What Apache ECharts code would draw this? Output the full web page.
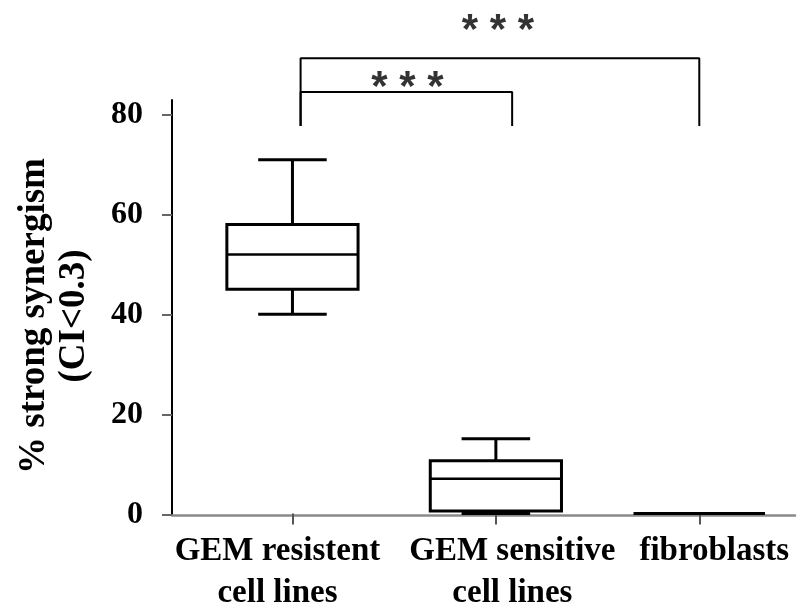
<!DOCTYPE html>
<html>
<head>
<meta charset="utf-8">
<script src="https://cdn.jsdelivr.net/npm/echarts@6/dist/echarts.min.js"></script>
<style>html,body{margin:0;padding:0;background:#fff;}#c{width:801px;height:610px;}</style>
</head>
<body>
<div id="c"></div>
<script>
// ---- data ----
var categories = ['GEM resistent\ncell lines', 'GEM sensitive\ncell lines', 'fibroblasts'];
// [min, Q1, median, Q3, max]
var boxResistent = [40, 45, 52, 58, 71];
var boxSensitive = [0, 0.5, 7, 10.6, 15];
var boxFibro = [0, 0, 0, 0, 0];
var yTicks = [0, 20, 40, 60, 80];
// significance brackets (x in category-band units, y in data units)
var bracket1 = [[0.54, 77.8], [0.54, 84.6], [1.58, 84.6], [1.58, 77.8]];
var bracket2 = [[0.54, 77.8], [0.54, 91.4], [2.5, 91.4], [2.5, 77.8]];
var starMarks = [[1.065, 85.4, '* * *'], [1.51, 96.7, '* * *']];
var yTitle = '% strong synergism\n(CI<0.3)';

var serif = '"Liberation Serif", "Times New Roman", serif';
var boxData = [boxResistent, boxSensitive, boxFibro].map(function (b, i) { return [i].concat(b); });

var chart = echarts.init(document.getElementById('c'), null, {renderer: 'canvas'});
var labelShift = ['s0', 's1', 's2'];
var baseRich = {fontSize: 33, fontWeight: 'bold', fontFamily: serif, color: '#000', lineHeight: 42};
var rich = {
  s0: Object.assign({}, baseRich, {padding: [0, 30, 0, 0]}),
  s1: Object.assign({}, baseRich, {padding: [0, 0, 0, 33]}),
  s2: Object.assign({}, baseRich, {padding: [0, 0, 0, 30]})
};

function renderBox(params, api) {
  var x = api.value(0);
  var band = api.size([1, 0])[0];
  var boxW = band * 0.645, capW = band * 0.337;
  var pMin = api.coord([x, api.value(1)]);
  var pQ1 = api.coord([x, api.value(2)]);
  var pMed = api.coord([x, api.value(3)]);
  var pQ3 = api.coord([x, api.value(4)]);
  var pMax = api.coord([x, api.value(5)]);
  var cx = pMed[0];
  var ls = {stroke: '#000', lineWidth: 3};
  return {
    type: 'group',
    children: [
      {type: 'line', shape: {x1: cx, y1: pMax[1], x2: cx, y2: pQ3[1]}, style: ls},
      {type: 'line', shape: {x1: cx, y1: pQ1[1], x2: cx, y2: pMin[1]}, style: ls},
      {type: 'line', shape: {x1: cx - capW / 2, y1: pMax[1], x2: cx + capW / 2, y2: pMax[1]}, style: ls},
      {type: 'line', shape: {x1: cx - capW / 2, y1: pMin[1], x2: cx + capW / 2, y2: pMin[1]}, style: ls},
      {type: 'rect', shape: {x: cx - boxW / 2, y: pQ3[1], width: boxW, height: pQ1[1] - pQ3[1]},
       style: {fill: '#fff', stroke: '#000', lineWidth: 3}},
      {type: 'line', shape: {x1: cx - boxW / 2, y1: pMed[1], x2: cx + boxW / 2, y2: pMed[1]},
       style: {stroke: '#000', lineWidth: 2.5}}
    ]
  };
}

var option = {
  backgroundColor: '#fff',
  animation: false,
  grid: [
    {left: 172, top: 100, width: 623, height: 415, containLabel: false},
    {left: 190.75, top: 100, width: 613.5, height: 415, containLabel: false}
  ],
  xAxis: [{
    gridIndex: 0, type: 'value', min: 0, max: 1,
    axisLine: {show: true, lineStyle: {color: '#8a8a8a', width: 2.5}},
    axisTick: {show: false}, axisLabel: {show: false}, splitLine: {show: false}
  }, {
    gridIndex: 1, type: 'category', data: categories, boundaryGap: true,
    axisLine: {show: false},
    axisTick: {show: true, alignWithLabel: true, length: 11, lineStyle: {color: '#555', width: 2}},
    axisLabel: {
      interval: 0, margin: 17,
      formatter: function (v, i) {
        return v.split('\n').map(function (s) { return '{' + labelShift[i] + '|' + s + '}'; }).join('\n');
      },
      rich: rich
    },
    splitLine: {show: false}
  }, {
    gridIndex: 1, type: 'value', min: 0, max: 3, show: false
  }],
  yAxis: [{
    gridIndex: 0, type: 'value', min: 0, max: 83,
    axisLine: {show: true, lineStyle: {color: '#000', width: 2}},
    axisTick: {show: true, length: 10, customValues: yTicks, lineStyle: {color: '#666', width: 2}},
    axisLabel: {customValues: yTicks, margin: 29, fontSize: 32, fontWeight: 'bold', fontFamily: serif, color: '#000'},
    splitLine: {show: false}
  }, {
    gridIndex: 1, type: 'value', min: 0, max: 83, show: false
  }],
  graphic: [
    {type: 'text', x: 54, y: 316, rotation: Math.PI / 2,
     style: {text: yTitle, fontSize: 37, fontWeight: 'bold', fontFamily: serif, fill: '#000',
             align: 'center', verticalAlign: 'middle', lineHeight: 40}}
  ],
  series: [
    {
      type: 'custom', xAxisIndex: 1, yAxisIndex: 1, z: 5,
      data: boxData, renderItem: renderBox,
      encode: {x: 0, y: [1, 2, 3, 4, 5]}
    },
    {
      type: 'line', xAxisIndex: 2, yAxisIndex: 1, data: bracket1, clip: false, symbol: 'none',
      lineStyle: {color: '#000', width: 2}, z: 3
    },
    {
      type: 'line', xAxisIndex: 2, yAxisIndex: 1, data: bracket2, clip: false, symbol: 'none',
      lineStyle: {color: '#000', width: 2}, z: 3
    },
    {
      type: 'scatter', xAxisIndex: 2, yAxisIndex: 1, data: starMarks, clip: false, symbolSize: 0,
      label: {show: true, position: 'inside', formatter: function (p) { return p.data[2]; },
              fontSize: 42, fontWeight: 'bold', fontFamily: '"Liberation Sans", Arial, sans-serif', color: '#000'},
      z: 4
    }
  ]
};
chart.setOption(option);
</script>
</body>
</html>
